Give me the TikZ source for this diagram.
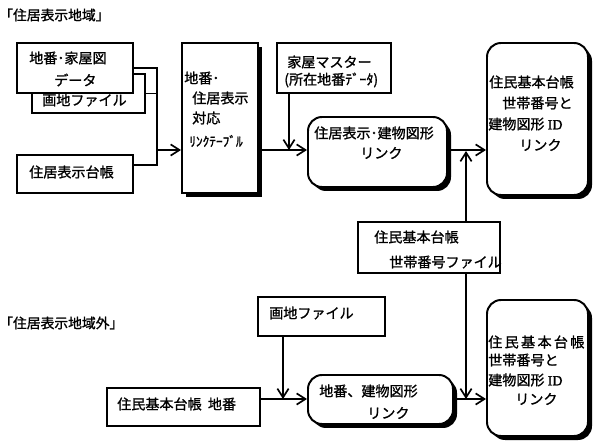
\documentclass[tikz,border=0pt]{standalone}
\usepackage{fontspec}
\newfontfamily\jfont{Noto Sans CJK JP}[FakeBold=1.2]
\newfontfamily\idfont{Liberation Serif}[FakeBold=1.2]
\usetikzlibrary{arrows.meta, shadows}

\begin{document}
\begin{tikzpicture}[x=0.025cm, y=-0.025cm, >={Straight Barb[length=2.2mm, width=2.8mm]},
  boxed/.style 2 args={draw, line width=1.4pt, fill=white, inner sep=0pt,
    minimum width={#1*0.025cm}, minimum height={#2*0.025cm}},
  heavy/.style={drop shadow={shadow xshift=0.1cm, shadow yshift=-0.1cm, fill=black, opacity=1}},
  rbox/.style={rounded corners=0.35cm},
  lbl/.style={anchor=west, inner sep=0pt, font=\jfont\fontsize{10pt}{12pt}\selectfont},
  ttl/.style={lbl, font=\jfont\fontsize{9.8pt}{11pt}\selectfont},
  conn/.style={line width=1.2pt}]
  \useasboundingbox (0,0) rectangle (600,445);

  % titles
  \node[ttl] (ttlA) at (-1,15) {「住居表示地域」};
  \node[ttl] (ttlB) at (-1,323) {「住居表示地域外」};

  % upper part: source files
  \node[boxed={113}{39}] (gachiA) at (88.5,93.5) {};
  \node[lbl] (gachiAtxt) at (42,100) {画地ファイル};
  \node[boxed={116}{50}] (zuA) at (75,68) {};
  \node[lbl] (zuAtxt1) at (29,58) {地番･家屋図};
  \node[lbl] (zuAtxt2) at (54,80) {データ};
  \node[boxed={116}{38}] (daichoA) at (75,174) {};
  \node[lbl] (daichoAtxt) at (29,172) {住居表示台帳};

  \node[boxed={76}{150}, heavy] (tbl) at (220,118) {};
  \node[lbl] (tbltxt1) at (184,78) {地番･};
  \node[lbl] (tbltxt2) at (192,98) {住居表示};
  \node[lbl] (tbltxt3) at (192,118) {対応};
  \node[lbl, font=\jfont\fontsize{9.5pt}{11pt}\selectfont] (tbltxt4) at (189,141) {ﾘﾝｸﾃｰﾌﾞﾙ};

  \node[boxed={114}{50}] (kaoku) at (334,68) {};
  \node[lbl] (kaokutxt1) at (287,62) {家屋マスター};
  \node[lbl] (kaokutxt2) at (284,80) {(所在地番ﾃﾞｰﾀ)};

  \node[boxed={139}{70}, rbox, heavy] (linkA) at (377.5,152) {};
  \node[lbl] (linkAtxt1) at (314,133) {住居表示･建物図形};
  \node[lbl] (linkAtxt2) at (360,153) {リンク};

  \node[boxed={101}{152}, rbox, heavy] (resA) at (537.5,119) {};
  \node[lbl] (resAtxt1) at (489,82) {住民基本台帳};
  \node[lbl] (resAtxt2) at (502,103) {世帯番号と};
  \node[lbl] (resAtxt3) at (488,124) {建物図形 {\idfont ID}};
  \node[lbl] (resAtxt4) at (519,145) {リンク};

  % middle
  \node[boxed={142}{51}] (setai) at (429,247.5) {};
  \node[lbl] (setaitxt1) at (374,237) {住民基本台帳};
  \node[lbl] (setaitxt2) at (389,262) {世帯番号ファイル};

  % lower part
  \node[boxed={127}{39}] (gachiB) at (321.5,316.5) {};
  \node[lbl] (gachiBtxt) at (269,313) {画地ファイル};
  \node[boxed={153}{38}] (jcB) at (183.5,407) {};
  \node[lbl] (jcBtxt) at (117,404) {住民基本台帳\ \ 地番};

  \node[boxed={145}{49}, rbox, heavy] (linkB) at (380.5,399.5) {};
  \node[lbl] (linkBtxt1) at (319,391) {地番、建物図形};
  \node[lbl] (linkBtxt2) at (367,413) {リンク};

  \node[boxed={101}{136}, rbox, heavy] (resB) at (537.5,368) {};
  \node[lbl] (resBtxt1) at (488,342) {住\,民\,基\,本\,台\,帳};
  \node[lbl] (resBtxt2) at (488,360) {世帯番号と};
  \node[lbl] (resBtxt3) at (488,380) {建物図形 {\idfont ID}};
  \node[lbl] (resBtxt4) at (515,399) {リンク};

  % connectors
  \coordinate (jA) at (157,68);
  \coordinate (jB) at (157,165);
  \coordinate (jC) at (157,150);
  \coordinate (kA) at (289,150);
  \coordinate (sA) at (466,151);
  \coordinate (sB) at (466,399);
  \coordinate (gB) at (283,399);
  \draw[conn] (zuA.east) -- (jA) -- (jB) -- (daichoA.east |- jB);
  \draw[conn] (gachiA.east) -- (gachiA.east -| jA);
  \draw[conn, ->] (jC) -- (jC -| tbl.west);
  \draw[conn, ->] (kaoku.south -| kA) -- (kA);
  \draw[conn, ->] (tbl.east |- kA) -- (linkA.west |- kA);
  \draw[conn, ->] (linkA.east |- kA) -- (resA.west |- kA);
  \draw[conn, ->] (setai.north -| sA) -- (sA);
  \draw[conn, ->] (setai.south -| sB) -- (sB);
  \draw[conn, ->] (gachiB.south -| gB) -- (gB);
  \draw[conn, ->] (jcB.east |- gB) -- (linkB.west |- gB);
  \draw[conn, ->] (linkB.east |- gB) -- (resB.west |- gB);
\end{tikzpicture}
\end{document}
